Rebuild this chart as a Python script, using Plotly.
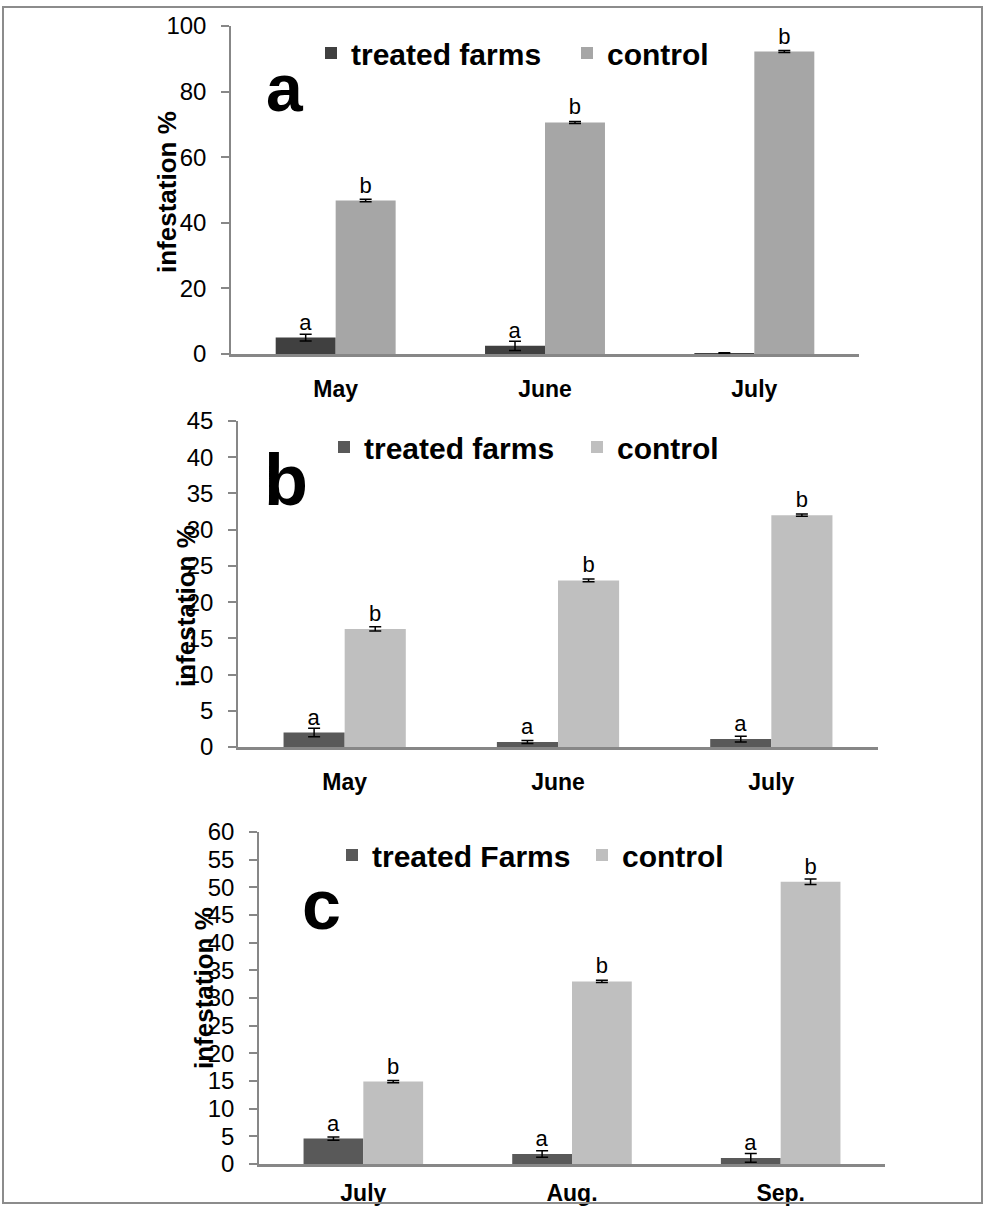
import plotly.graph_objects as go

# ---------------- data ----------------
months_a = ["May", "June", "July"]
treated_a = [5.0, 2.5, 0.2]
treated_a_err = [1.0, 1.4, 0.2]
treated_a_lbl = ["a", "a", ""]
control_a = [46.8, 70.6, 92.2]
control_a_err = [0.4, 0.3, 0.3]
control_a_lbl = ["b", "b", "b"]

months_b = ["May", "June", "July"]
treated_b = [2.0, 0.7, 1.1]
treated_b_err = [0.6, 0.2, 0.4]
treated_b_lbl = ["a", "a", "a"]
control_b = [16.3, 23.0, 32.0]
control_b_err = [0.3, 0.2, 0.15]
control_b_lbl = ["b", "b", "b"]

months_c = ["July", "Aug.", "Sep."]
treated_c = [4.6, 1.8, 1.1]
treated_c_err = [0.3, 0.6, 0.8]
treated_c_lbl = ["a", "a", "a"]
control_c = [14.9, 33.0, 51.0]
control_c_err = [0.2, 0.2, 0.5]
control_c_lbl = ["b", "b", "b"]

series_names_ab = ["treated farms", "control"]
series_names_c = ["treated Farms", "control"]
ytitle = "infestation %"
panel_letters = ["a", "b", "c"]

# ---------------- styling ----------------
W, H = 987, 1206
FONT = "Liberation Sans, Arial, sans-serif"
AXC = "#878787"

def px_x(x):
    return x / W

def px_y(y):
    return 1 - y / H

panels = [
    dict(months=months_a, tr=treated_a, tre=treated_a_err, trl=treated_a_lbl,
         co=control_a, coe=control_a_err, col=control_a_lbl,
         names=series_names_ab, ctr="#404040", cco="#a6a6a6",
         xd=[231, 859], yd=[354, 26], rng=[0, 100], dtick=20, tfs=24,
         legend="legend", legxy=(311, 53), ew=211, stand=13),
    dict(months=months_b, tr=treated_b, tre=treated_b_err, trl=treated_b_lbl,
         co=control_b, coe=control_b_err, col=control_b_lbl,
         names=series_names_ab, ctr="#595959", cco="#bfbfbf",
         xd=[238, 878], yd=[747, 421], rng=[0, 45], dtick=5, tfs=24,
         legend="legend2", legxy=(324, 447), ew=208, stand=13),
    dict(months=months_c, tr=treated_c, tre=treated_c_err, trl=treated_c_lbl,
         co=control_c, coe=control_c_err, col=control_c_lbl,
         names=series_names_c, ctr="#595959", cco="#bfbfbf",
         xd=[259, 885], yd=[1164, 832], rng=[0, 60], dtick=5, tfs=24,
         legend="legend3", legxy=(332, 855), ew=205, stand=7),
]

fig = go.Figure()
layout = dict(
    width=W, height=H,
    margin=dict(l=0, r=0, t=0, b=0, autoexpand=False),
    paper_bgcolor="white", plot_bgcolor="white",
    barmode="group", bargap=0.427, bargroupgap=0,
    font=dict(family=FONT, color="black"),
)

for i, p in enumerate(panels):
    sfx = "" if i == 0 else str(i + 1)
    xa, ya = "x" + sfx, "y" + sfx
    for vals, errs, lbls, name, color in [
        (p["tr"], p["tre"], p["trl"], p["names"][0], p["ctr"]),
        (p["co"], p["coe"], p["col"], p["names"][1], p["cco"]),
    ]:
        fig.add_trace(go.Bar(
            x=p["months"], y=vals, name=name, text=lbls,
            textposition="outside", cliponaxis=False, constraintext="none",
            textfont=dict(family=FONT, size=22, color="black"),
            marker=dict(color=color, line=dict(width=0)),
            error_y=dict(type="data", array=errs, color="black",
                         thickness=1.5, width=6),
            xaxis=xa, yaxis=ya, legend=p["legend"],
        ))
    layout["xaxis" + sfx] = dict(
        domain=[px_x(p["xd"][0]), px_x(p["xd"][1])], anchor=ya,
        showline=True, linecolor=AXC, linewidth=2.5, ticks="",
        showgrid=False, zeroline=False,
        tickfont=dict(family=FONT, size=23, color="black", weight="bold"),
        ticklabelstandoff=p["stand"],
    )
    layout["yaxis" + sfx] = dict(
        domain=[px_y(p["yd"][0]), px_y(p["yd"][1])], anchor=xa,
        range=p["rng"], dtick=p["dtick"],
        showline=True, linecolor=AXC, linewidth=1.5,
        ticks="outside", ticklen=8, tickcolor=AXC, tickwidth=1.5,
        showgrid=False, zeroline=False,
        tickfont=dict(family=FONT, size=p["tfs"], color="black"),
        ticklabelstandoff=10,
    )
    layout[p["legend"]] = dict(
        orientation="h", x=px_x(p["legxy"][0]), y=px_y(p["legxy"][1]),
        xanchor="left", yanchor="middle", bgcolor="rgba(0,0,0,0)",
        font=dict(family=FONT, size=30, color="black", weight="bold"),
        itemwidth=30, tracegroupgap=0,
        entrywidth=p["ew"], entrywidthmode="pixels",
    )

# y-axis titles
for (cx, cy, bold) in [(167, 192, True), (186, 606, True), (204, 988, True)]:
    fig.add_annotation(
        text=ytitle, xref="paper", yref="paper", x=px_x(cx), y=px_y(cy),
        xanchor="center", yanchor="middle", textangle=-90, showarrow=False,
        font=dict(family=FONT, size=26, color="black",
                  weight="bold" if bold else "normal"),
    )

# panel letters
for letter, (cx, cy), size in zip(panel_letters,
                                  [(285, 88), (286, 480), (321, 905)],
                                  [66, 72, 70]):
    fig.add_annotation(
        text=letter, xref="paper", yref="paper", x=px_x(cx), y=px_y(cy),
        xanchor="center", yanchor="middle", showarrow=False,
        font=dict(family=FONT, size=size, color="black", weight="bold"),
    )

# outer frame
fig.add_shape(type="rect", xref="paper", yref="paper",
              x0=px_x(3), x1=px_x(982), y0=px_y(1203), y1=px_y(7),
              line=dict(color="#8c8c8c", width=2), fillcolor="rgba(0,0,0,0)")

fig.update_layout(**layout)
fig.write_html("out.html", config={"displayModeBar": False},
               post_script="document.body.style.margin='0';")
